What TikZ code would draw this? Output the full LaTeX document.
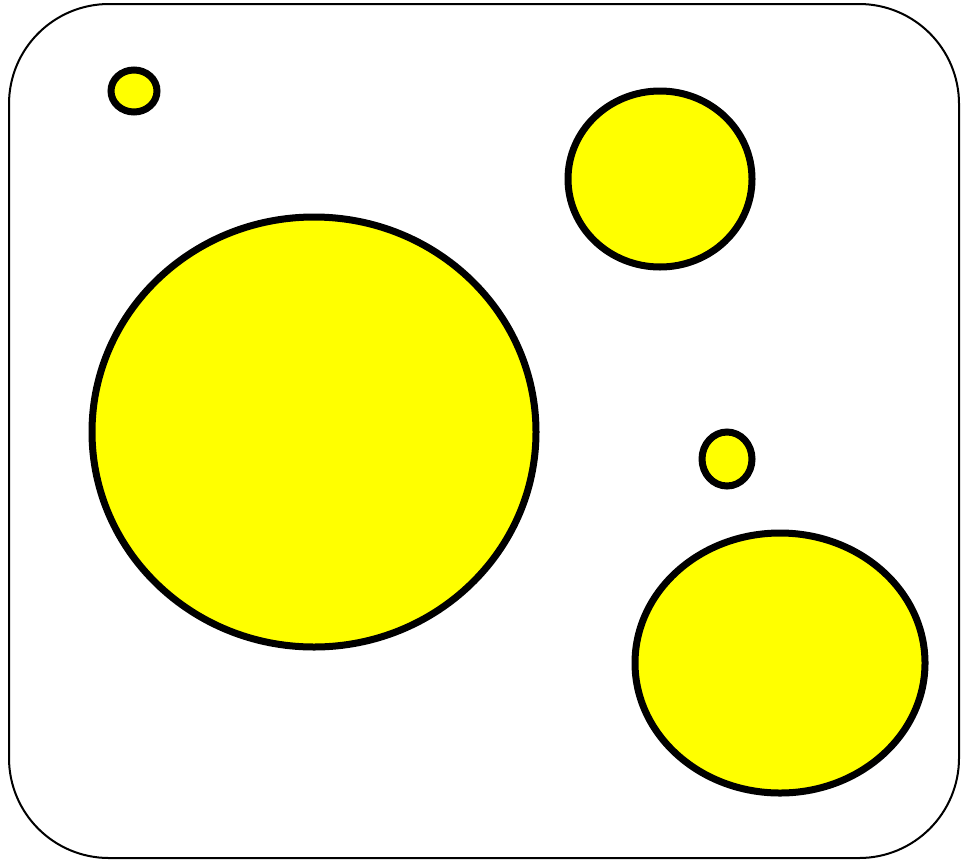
\documentclass[tikz,border=0pt]{standalone}
\definecolor{pureyellow}{RGB}{255,255,0}
\begin{document}
\begin{tikzpicture}[x=0.5pt,y=-0.5pt,
  blob/.style={draw=black,fill=pureyellow,line width=3.5pt},
  frame/.style={draw=black,line width=1pt,rounded corners=50pt}]
\useasboundingbox (0,0) rectangle (961,862);
\draw[frame] (9,4) rectangle (959,858);
\draw[blob] (134,91) ellipse [x radius=23, y radius=21];
\draw[blob] (660,179) ellipse [x radius=92, y radius=88];
\draw[blob] (314,432) ellipse [x radius=222, y radius=215];
\draw[blob] (727,459) ellipse [x radius=25, y radius=27];
\draw[blob] (780,663) ellipse [x radius=145, y radius=130];
\end{tikzpicture}
\end{document}
